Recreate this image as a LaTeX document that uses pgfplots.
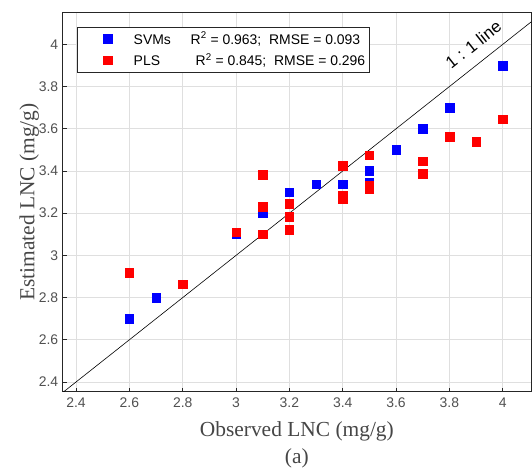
\documentclass[border=0pt]{standalone}
\usepackage{pgfplots}
\pgfplotsset{compat=1.18}
\usepackage{fontspec}
\setmainfont{Liberation Serif}
\newfontfamily\arialfont{Liberation Sans}
\definecolor{axgray}{RGB}{38,38,38}
\definecolor{tickgray}{RGB}{80,80,80}
\definecolor{labgray}{RGB}{70,70,70}
\begin{document}
\begin{tikzpicture}
\begin{axis}[
  scale only axis,
  width=468.3bp, height=379.4bp,
  xmin=2.35, xmax=4.106,
  ymin=2.354, ymax=4.152,
  xtick={2.4,2.6,2.8,3,3.2,3.4,3.6,3.8,4},
  ytick={2.4,2.6,2.8,3,3.2,3.4,3.6,3.8,4},
  xticklabels={2.4,2.6,2.8,3,3.2,3.4,3.6,3.8,4},
  yticklabels={2.4,2.6,2.8,3,3.2,3.4,3.6,3.8,4},
  xtick pos=bottom, ytick pos=left,
  tick align=inside,
  major tick length=4bp,
  tick style={axgray, line width=0.6pt},
  axis line style={axgray, line width=0.8pt},
  grid=major,
  major grid style={gray!25, line width=0.6pt},
  ticklabel style={font=\arialfont\fontsize{14}{16}\selectfont, text=tickgray},
  xticklabel style={yshift=-3bp},
  yticklabel style={xshift=-1bp},
  xlabel={Observed LNC (mg/g)\\(a)},
  xlabel style={font=\fontsize{21.5}{27}\selectfont, text=labgray, align=center, yshift=-7bp},
  ylabel={Estimated LNC (mg/g)},
  ylabel style={font=\fontsize{21.5}{24}\selectfont, text=labgray, yshift=-7bp},
  legend style={at={(0.0312,0.962)}, anchor=north west,
    draw=axgray, line width=0.8pt,
    font=\arialfont\fontsize{14}{16}\selectfont,
    row sep=4bp, inner xsep=2bp, inner ysep=3bp,
    legend cell align=left},
  legend image code/.code={%
    \path[draw=none,fill=none] (0bp,-3bp) rectangle (52bp,3bp);
    \draw[#1] plot coordinates {(28bp,0bp)};},
  clip=true,
]
\addplot[black, line width=0.6pt, forget plot] coordinates {(2.3,2.3) (4.3,4.3)};
\addplot[only marks, mark=square*, mark size=4.3bp, color=blue,
  mark options={rounded corners=1.2bp}] coordinates {
  (2.6,2.70) (2.7,2.80) (3.0,3.10) (3.1,3.20) (3.2,3.30) (3.3,3.337)
  (3.4,3.337) (3.5,3.345) (3.5,3.40) (3.6,3.50) (3.7,3.60) (3.8,3.70) (4.0,3.90)
};
\addlegendentry{\makebox[57bp][l]{SVMs}R\textsuperscript{2} = 0.963;\ \ RMSE = 0.093}
\addplot[only marks, mark=square*, mark size=4.3bp, color=red,
  mark options={rounded corners=1.2bp}] coordinates {
  (2.6,2.918) (2.8,2.863) (3.0,3.11) (3.1,3.10) (3.1,3.231) (3.1,3.381)
  (3.2,3.122) (3.2,3.182) (3.2,3.244) (3.4,3.267) (3.4,3.286) (3.4,3.425)
  (3.5,3.315) (3.5,3.33) (3.5,3.474) (3.7,3.386) (3.7,3.447) (3.8,3.563)
  (3.9,3.539) (4.0,3.646)
};
\addlegendentry{\makebox[62bp][l]{PLS}R\textsuperscript{2} = 0.845;\ \ RMSE = 0.296}
\node[rotate=38.4, anchor=south, inner sep=0pt, font=\arialfont\fontsize{17}{19}\selectfont, text=black]
  at (axis cs:3.905,3.975) {1 : 1 line};
\end{axis}
\pgfresetboundingbox
\path (current axis.south west) ++(-62.7bp,-77.3bp) coordinate (bbsw);
\path (current axis.north east) ++(1bp,12.3bp) coordinate (bbne);
\path[use as bounding box] (bbsw) rectangle (bbne);
\end{tikzpicture}
\end{document}
